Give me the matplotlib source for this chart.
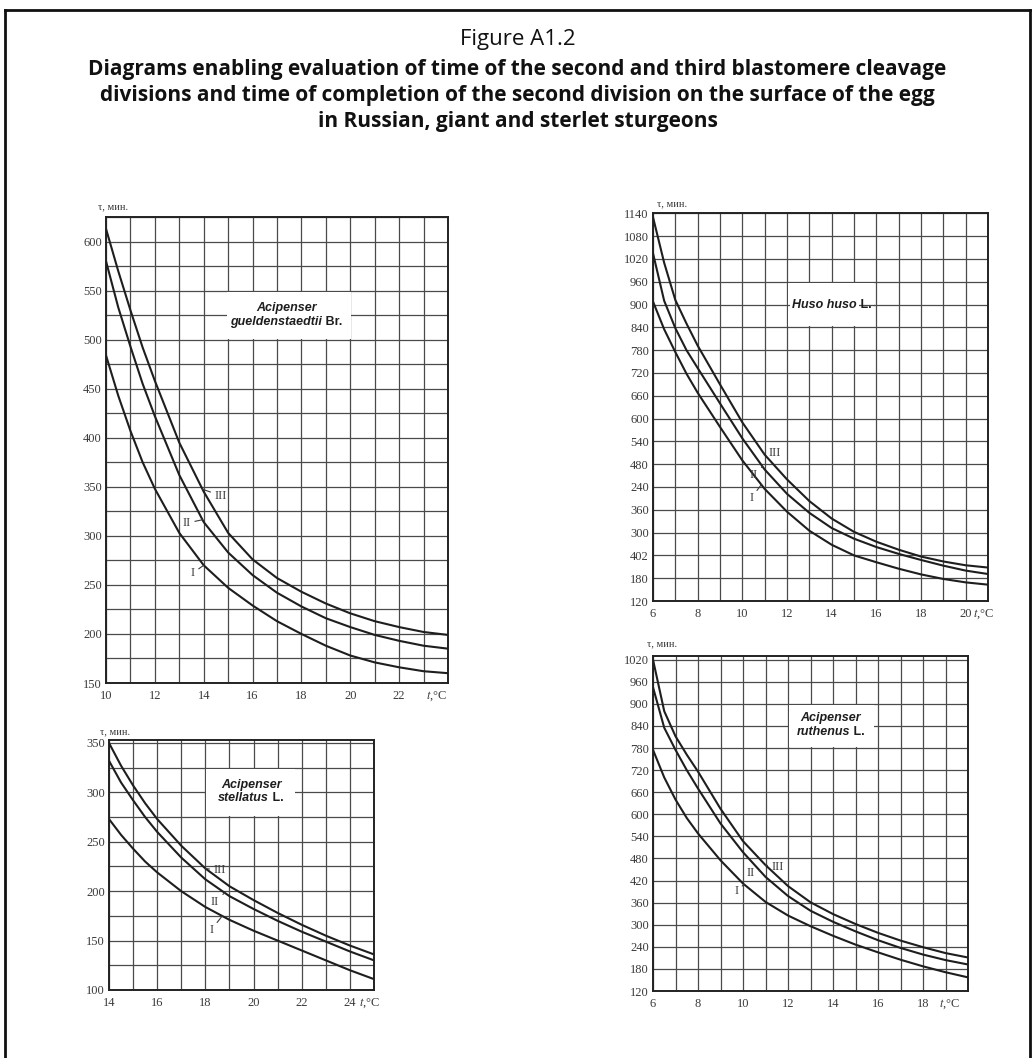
import numpy as np
import matplotlib.pyplot as plt
from matplotlib.patches import Rectangle
from matplotlib.lines import Line2D

plt.rcParams['font.family'] = ['Liberation Serif', 'DejaVu Serif']
plt.rcParams['mathtext.fontset'] = 'stix'

# --- Acipenser gueldenstaedtii Br. ---
gu_t = [10, 10.5, 11, 11.5, 12, 13, 14, 15, 16, 17, 18, 19, 20, 21, 22, 23, 24]
gu_I = [484, 443, 407, 375, 348, 303, 270, 247, 229, 213, 200, 188, 178, 171, 166, 162, 160]
gu_II = [580, 533, 493, 455, 422, 362, 314, 283, 260, 242, 228, 216, 207, 199, 193, 188, 185]
gu_III = [613, 570, 530, 492, 458, 395, 345, 303, 276, 257, 243, 231, 221, 213, 207, 202, 199]

# --- Huso huso L. ---
hu_t = [6, 6.5, 7, 7.5, 8, 9, 10, 11, 12, 13, 14, 15, 16, 17, 18, 19, 20, 21]
hu_I = [908, 835, 775, 718, 668, 578, 490, 415, 355, 305, 268, 240, 222, 205, 190, 178, 169, 163]
hu_II = [1035, 910, 838, 780, 733, 640, 548, 466, 402, 352, 312, 284, 262, 244, 228, 213, 200, 191]
hu_III = [1130, 1010, 912, 850, 792, 690, 590, 505, 440, 383, 337, 302, 276, 255, 237, 224, 214, 208]
# tick labels as printed on the original (with its misprints)
hu_yticklabels = ['120', '180', '402', '300', '360', '240', '480', '540', '600', '660',
                  '720', '780', '840', '900', '960', '1020', '1080', '1140']

# --- Acipenser stellatus L. ---
st_t = [14, 14.5, 15, 15.5, 16, 17, 18, 19, 20, 21, 22, 23, 24, 25]
st_I = [273, 257, 243, 230, 219, 200, 184, 171, 160, 150, 140, 130, 120, 111]
st_II = [332, 310, 292, 275, 260, 234, 212, 195, 182, 170, 159, 149, 139, 130]
st_III = [350, 327, 307, 289, 273, 246, 223, 205, 191, 178, 166, 155, 145, 136]

# --- Acipenser ruthenus L. ---
ru_t = [6, 6.5, 7, 7.5, 8, 9, 10, 11, 12, 13, 14, 15, 16, 17, 18, 19, 20]
ru_I = [775, 700, 640, 590, 548, 475, 412, 362, 325, 296, 270, 246, 225, 205, 187, 171, 157]
ru_II = [945, 835, 775, 720, 670, 575, 497, 430, 378, 338, 308, 282, 258, 237, 219, 204, 192]
ru_III = [1020, 880, 812, 762, 716, 615, 527, 462, 405, 361, 329, 302, 278, 257, 239, 223, 211]

W, H = 1035, 1058
fig = plt.figure(figsize=(W / 100, H / 100), dpi=100)


def px_axes(l, t, r, b):
    return fig.add_axes([l / W, 1 - b / H, (r - l) / W, (b - t) / H])


def setup(ax, xlim, xgrid, xlabels, ylim, ygrid, yticks, yticklabels, unit_x, ylab_off):
    ax.set_xlim(*xlim)
    ax.set_ylim(*ylim)
    ax.set_xticks(xlabels)
    ax.set_xticklabels([str(v) for v in xlabels])
    ax.set_xticks(xgrid, minor=True)
    ax.set_yticks(yticks)
    ax.set_yticklabels(yticklabels)
    ax.set_yticks(ygrid, minor=True)
    ax.grid(which='both', color='#4a4a4a', lw=0.9)
    ax.set_axisbelow(True)
    ax.tick_params(which='both', length=0, labelsize=9, labelcolor='#3a3a3a')
    ax.tick_params(axis='x', pad=5)
    ax.tick_params(axis='y', pad=3)
    for s in ax.spines.values():
        s.set_linewidth(1.4)
        s.set_color('#222222')
    ax.annotate(r'$t$,°C', xy=(unit_x, 0), xycoords=('data', 'axes fraction'),
                xytext=(0, -5), textcoords='offset points', ha='center', va='top',
                fontsize=9, color='#3a3a3a')
    ax.annotate('τ, мин.', xy=(0, 1), xycoords='axes fraction', xytext=ylab_off,
                textcoords='offset pixels', ha='left', va='center', fontsize=7.5,
                color='#3a3a3a')


def curves(ax, t, ys):
    for y in ys:
        ax.plot(t, y, color='#1e1e1e', lw=1.5, zorder=3, solid_capstyle='butt')


def labels(ax, t, ys, spots):
    # spots: (name, text x, text y, x where the leader meets the curve)
    for y, (name, tx, ty, cx) in zip(ys, spots):
        cy = np.interp(cx, t, y)
        ax.annotate(name, xy=(cx, cy), xytext=(tx, ty), ha='center', va='center',
                    fontsize=9, color='#3a3a3a', zorder=5,
                    arrowprops=dict(arrowstyle='-', lw=0.8, color='#3a3a3a',
                                    shrinkA=1, shrinkB=0))


def white_box(ax, x0, y0, x1, y1):
    ax.add_patch(Rectangle((x0, y0), x1 - x0, y1 - y0, facecolor='white',
                           edgecolor='none', zorder=1))


def species(ax, cx, cy, dy, first, italic, plain, shift):
    kw = dict(family=['Liberation Sans', 'DejaVu Sans'], weight='bold',
              fontsize=9, color='#1e1e1e', zorder=6)
    if first:
        ax.text(cx, cy + dy, first, style='italic', ha='center', va='center', **kw)
    t1 = ax.text(cx - shift, cy - dy, italic, style='italic', ha='center',
                 va='center', **kw)
    ax.annotate(plain, xy=(1, 0.5), xycoords=t1, ha='left', va='center', **kw)
    return t1


# panel 1: gueldenstaedtii
ax1 = px_axes(106, 217, 448, 683)
setup(ax1, (10, 24), np.arange(10, 25, 1), np.arange(10, 23, 2), (150, 625),
      np.arange(150, 626, 25), np.arange(150, 601, 50),
      [str(v) for v in range(150, 601, 50)], 23.55, (-8, 10))
white_box(ax1, 14.97, 501, 20.03, 549)
species(ax1, 17.4, 525, 7, 'Acipenser', 'gueldenstaedtii', ' Br.', 0.45)
curves(ax1, gu_t, [gu_I, gu_II, gu_III])
labels(ax1, gu_t, [gu_I, gu_II, gu_III],
       [('I', 13.55, 262, 14.0), ('II', 13.3, 313, 13.95), ('III', 14.7, 341, 13.95)])

# panel 2: Huso huso
ax2 = px_axes(653, 213, 988, 601)
setup(ax2, (6, 21), np.arange(6, 22, 1), np.arange(6, 21, 2), (120, 1141),
      np.arange(120, 1141, 60), np.arange(120, 1141, 60), hu_yticklabels, 20.8, (4, 9))
white_box(ax2, 12.03, 843, 15.9, 957)
ax2.plot([12.03, 15.9], [900, 900], color='#4a4a4a', lw=0.9, zorder=1.5)
t2 = species(ax2, 14.0, 900, 0, None, 'Huso huso', ' L.', 0.33)
t2.set_bbox(dict(facecolor='white', edgecolor='none', pad=1.5))
curves(ax2, hu_t, [hu_I, hu_II, hu_III])
labels(ax2, hu_t, [hu_I, hu_II, hu_III],
       [('I', 10.4, 391, 10.85), ('II', 10.5, 451, 10.9), ('III', 11.45, 509, 10.95)])

# panel 3: stellatus
ax3 = px_axes(109, 740, 374, 990)
setup(ax3, (14, 25), np.arange(14, 26, 1), np.arange(14, 25, 2), (100, 353),
      np.arange(100, 351, 25), np.arange(100, 351, 50),
      [str(v) for v in range(100, 351, 50)], 24.8, (-9, 8))
white_box(ax3, 18.03, 276, 21.7, 324)
species(ax3, 19.9, 301, 6.6, 'Acipenser', 'stellatus', ' L.', 0.31)
curves(ax3, st_t, [st_I, st_II, st_III])
labels(ax3, st_t, [st_I, st_II, st_III],
       [('I', 18.25, 161, 18.7), ('II', 18.4, 189, 18.8), ('III', 18.6, 221, 18.0)])

# panel 4: ruthenus
ax4 = px_axes(653, 656, 968, 991)
setup(ax4, (6, 20), np.arange(6, 21, 1), np.arange(6, 19, 2), (120, 1030),
      np.arange(120, 1021, 60), np.arange(120, 1021, 60),
      [str(v) for v in range(120, 1021, 60)], 19.2, (-6, 12))
white_box(ax4, 12.03, 782, 15.8, 898)
species(ax4, 13.9, 842, 19, 'Acipenser', 'ruthenus', ' L.', 0.33)
curves(ax4, ru_t, [ru_I, ru_II, ru_III])
labels(ax4, ru_t, [ru_I, ru_II, ru_III],
       [('I', 9.7, 392, 10.05), ('II', 10.35, 441, 10.75), ('III', 11.55, 457, 11.0)])

# title
tf = ['Open Sans', 'DejaVu Sans']
fig.text(0.5, 1 - 40 / H, 'Figure A1.2', ha='center', va='center', fontsize=16,
         family=tf, color='#111111')
title_lines = ['Diagrams enabling evaluation of time of the second and third blastomere cleavage',
               'divisions and time of completion of the second division on the surface of the egg',
               'in Russian, giant and sterlet sturgeons']
for i, line in enumerate(title_lines):
    fig.text(0.5, 1 - (70 + 26 * i) / H, line, ha='center', va='center', fontsize=15,
             family=tf, weight='bold', color='#111111')

# outer frame
for xs, ys in [([5, 5], [10, H]), ([5, 1030], [10, 10]), ([1030, 1030], [10, H])]:
    fig.add_artist(Line2D([x / W for x in xs], [1 - y / H for y in ys],
                          transform=fig.transFigure, color='#111111', lw=2))

fig.savefig('out.png', dpi=100, facecolor='white')
